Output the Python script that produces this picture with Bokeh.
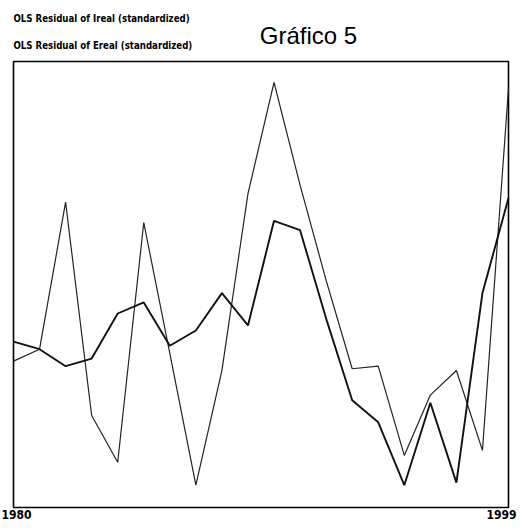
from bokeh.plotting import figure
from bokeh.models import Range1d
from bokeh.core.properties import value
from bokeh.embed import file_html
from bokeh.resources import INLINE

years = list(range(1980, 2000))
ireal = [-0.36, -0.22, 1.51, -1.00, -1.55, 1.27, -0.27, -1.82, -0.47, 1.61,
         2.92, 1.71, 0.59, -0.45, -0.42, -1.47, -0.76, -0.47, -1.41, 2.85]
ereal = [-0.13, -0.22, -0.42, -0.33, 0.20, 0.33, -0.18, 0.00, 0.44, 0.06,
         1.29, 1.18, 0.14, -0.82, -1.08, -1.82, -0.85, -1.79, 0.44, 1.56]
tick_years = [1980, 1999]
tick_labels = ["1980", "1999"]
legend_texts = ["OLS Residual of Ireal (standardized)", "OLS Residual of Ereal (standardized)"]
title_text = "Gráfico 5"

# frame limits (value scale of the plotting box)
Y_LO, Y_HI = -2.082, 3.165

W, H = 518, 522
k = 19 / 495.0          # years per pixel
x0 = 1980 - 13 * k
x1 = x0 + W * k
vy = 1 / 85.0           # value per pixel
y1 = 330 * vy
y0 = y1 - H * vy

COND = value("DejaVu Sans Condensed, Liberation Sans, sans-serif")

p = figure(width=W, height=H, output_backend="svg", toolbar_location=None,
           x_range=Range1d(x0, x1), y_range=Range1d(y0, y1),
           min_border=0, x_axis_location=None, y_axis_location=None)
p.grid.visible = False
p.outline_line_color = None
p.background_fill_color = "white"
p.border_fill_color = "white"

p.quad(left=[years[0]], right=[years[-1]], bottom=[Y_LO], top=[Y_HI],
       fill_color=None, line_color="black", line_width=1.6)

p.line(years, ireal, line_color="#222222", line_width=1.2)
p.line(years, ereal, line_color="#111111", line_width=1.9)

tick_y = (330 - 514) * vy
p.text(x=[x0 + 1 * k], y=[tick_y], text=[tick_labels[0]],
       text_font=COND, text_font_style="bold",
       text_font_size="12px", text_align="left", text_baseline="middle", text_color="black")
p.text(x=[x1 - 2 * k], y=[tick_y], text=[tick_labels[1]],
       text_font=COND, text_font_style="bold",
       text_font_size="12px", text_align="right", text_baseline="middle", text_color="black")

p.text(x=[years[0]] * 2, y=[(330 - 18) * vy, (330 - 45) * vy], text=legend_texts,
       text_font=COND, text_font_style="bold",
       text_font_size="9.6px", text_align="left", text_baseline="middle", text_color="black")

p.text(x=[years[0] + 295 * k], y=[(330 - 35) * vy], text=[title_text],
       text_font=value("Liberation Sans"), text_font_size="24px",
       text_align="center", text_baseline="alphabetic", text_color="black")

open("out.html", "w").write(file_html(p, INLINE))
